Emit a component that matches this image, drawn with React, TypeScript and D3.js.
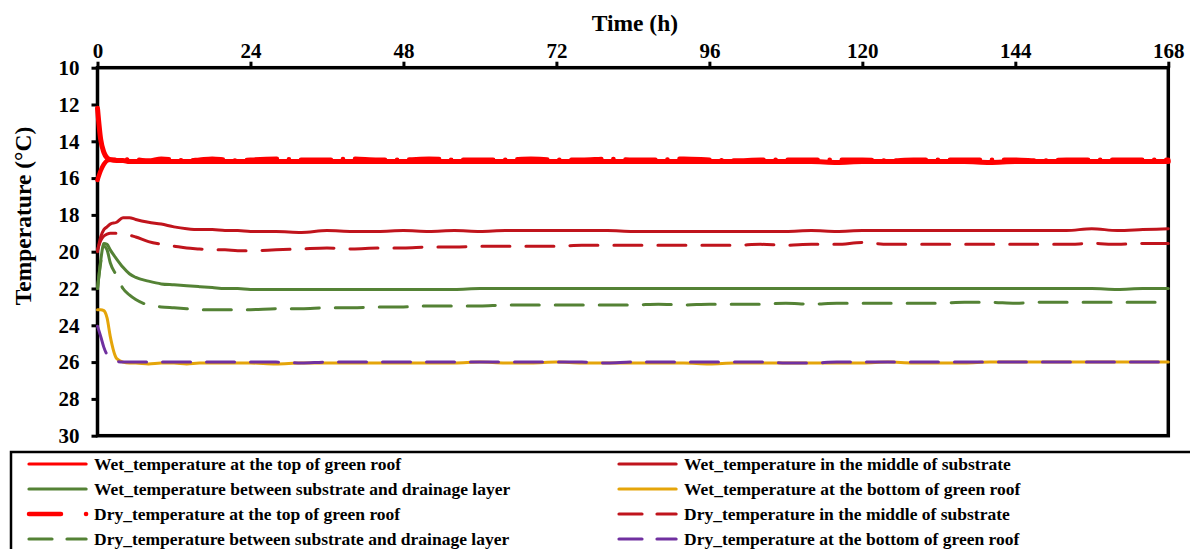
import { useEffect, useRef } from 'react'
import * as d3 from 'd3'

// hours since start (dense at the beginning where the curves move)
const hours = [
  0, 0.5, 1, 1.5, 2, 3, 4, 5, 6, 8, 10, 12, 14, 16, 18, 20, 22,
  24, 28, 32, 36, 40, 44, 48, 52, 56, 60,
  64, 68, 72, 76, 80, 84, 88, 92, 96, 100,
  104, 108, 112, 116, 120, 124, 128, 132, 136, 140,
  144, 148, 152, 156, 160, 164, 168,
]

const wetTop = [
  12.2, 13.9, 14.6, 14.9, 15.0, 15.05, 15.05, 15.1, 15.1, 15.1, 15.1, 15.1, 15.1, 15.1, 15.1, 15.1, 15.1,
  15.1, 15.1, 15.1, 15.1, 15.1, 15.1, 15.1, 15.1, 15.1, 15.1,
  15.1, 15.1, 15.1, 15.1, 15.1, 15.1, 15.1, 15.1, 15.1, 15.1,
  15.1, 15.1, 15.1, 15.15, 15.1, 15.1, 15.1, 15.1, 15.1, 15.15,
  15.1, 15.1, 15.1, 15.1, 15.1, 15.1, 15.1,
]
const wetMiddle = [
  20.0, 19.2, 18.8, 18.65, 18.5, 18.4, 18.15, 18.15, 18.25, 18.4, 18.5, 18.65, 18.75, 18.8, 18.8, 18.85, 18.85,
  18.9, 18.9, 18.95, 18.85, 18.9, 18.9, 18.85, 18.9, 18.85, 18.9,
  18.85, 18.85, 18.85, 18.85, 18.85, 18.9, 18.9, 18.9, 18.9, 18.9,
  18.9, 18.9, 18.85, 18.9, 18.85, 18.85, 18.85, 18.85, 18.85, 18.85,
  18.85, 18.85, 18.85, 18.75, 18.85, 18.8, 18.75,
]
const wetBetween = [
  22.0, 20.5, 19.55, 19.6, 19.9, 20.4, 20.85, 21.2, 21.4, 21.6, 21.75, 21.8, 21.85, 21.9, 21.95, 22.0, 22.0,
  22.05, 22.05, 22.05, 22.05, 22.05, 22.05, 22.05, 22.05, 22.05, 22.0,
  22.0, 22.0, 22.0, 22.0, 22.0, 22.0, 22.0, 22.0, 22.0, 22.0,
  22.0, 22.0, 22.0, 22.0, 22.0, 22.0, 22.0, 22.0, 22.0, 22.0,
  22.0, 22.0, 22.0, 22.0, 22.05, 22.0, 22.0,
]
const wetBottom = [
  23.15, 23.15, 23.2, 23.6, 24.6, 25.8, 26.0, 26.05, 26.05, 26.1, 26.05, 26.05, 26.1, 26.05, 26.05, 26.05, 26.05,
  26.05, 26.1, 26.05, 26.05, 26.05, 26.05, 26.05, 26.05, 26.05, 26.0,
  26.05, 26.05, 26.0, 26.05, 26.05, 26.05, 26.05, 26.05, 26.1, 26.05,
  26.05, 26.05, 26.05, 26.05, 26.05, 26.0, 26.05, 26.05, 26.05, 26.0,
  26.0, 26.0, 26.0, 26.0, 26.0, 26.0, 26.0,
]
const dryTop = [
  16.1, 15.6, 15.25, 15.05, 15.0, 15.0, 14.95, 15.0, 15.0, 15.05, 14.95, 15.0, 15.05, 15.0, 14.95, 15.0, 15.05,
  15.0, 14.95, 15.0, 15.0, 14.95, 15.0, 15.0, 14.95, 15.0, 15.0,
  15.0, 14.95, 15.0, 15.0, 14.95, 15.0, 15.0, 14.95, 15.0, 15.05,
  15.0, 15.0, 15.0, 15.0, 15.0, 15.05, 15.0, 15.0, 15.0, 15.0,
  15.0, 15.05, 15.0, 15.0, 15.0, 15.0, 15.0,
]
const dryMiddle = [
  19.9, 19.4, 19.15, 19.05, 19.0, 19.0, 19.05, 19.1, 19.2, 19.45, 19.6, 19.7, 19.8, 19.85, 19.9, 19.9, 19.95,
  19.95, 19.9, 19.85, 19.8, 19.85, 19.8, 19.8, 19.75, 19.75, 19.7,
  19.7, 19.7, 19.7, 19.65, 19.65, 19.65, 19.65, 19.65, 19.65, 19.65,
  19.6, 19.65, 19.6, 19.6, 19.5, 19.6, 19.6, 19.6, 19.6, 19.6,
  19.6, 19.6, 19.6, 19.55, 19.6, 19.55, 19.55,
]
const dryBetween = [
  22.0, 20.6, 19.7, 19.9, 20.6, 21.3, 22.0, 22.35, 22.6, 22.9, 23.0, 23.05, 23.1, 23.15, 23.15, 23.15, 23.15,
  23.15, 23.1, 23.1, 23.05, 23.05, 23.0, 23.0, 22.95, 22.95, 22.95,
  22.9, 22.9, 22.9, 22.9, 22.9, 22.9, 22.85, 22.9, 22.85, 22.85,
  22.85, 22.8, 22.85, 22.8, 22.8, 22.8, 22.8, 22.8, 22.75, 22.75,
  22.8, 22.75, 22.75, 22.75, 22.75, 22.75, 22.75,
]
const dryBottom = [
  24.05, 24.6, 25.2, 25.6, 25.8, 25.95, 26.0, 26.0, 26.0, 26.0, 26.0, 26.0, 26.0, 26.0, 26.0, 26.0, 26.0,
  26.0, 26.0, 26.05, 26.0, 26.0, 26.0, 26.0, 26.0, 26.0, 26.0,
  26.0, 26.0, 26.0, 26.0, 26.05, 26.0, 26.0, 26.0, 26.0, 26.0,
  26.0, 26.05, 26.05, 26.0, 26.0, 26.0, 26.0, 26.0, 26.0, 26.0,
  26.0, 26.0, 26.0, 26.0, 26.0, 26.0, 26.0,
]

const xTicks = [0, 24, 48, 72, 96, 120, 144, 168]
const yTicks = [10, 12, 14, 16, 18, 20, 22, 24, 26, 28, 30]

// legend order is row by row, two columns
const series = [
  { name: 'Wet_temperature at the top of green roof', values: wetTop, color: '#FF0000', width: 5, legendWidth: 3.2, dash: null, legendDash: null },
  { name: 'Wet_temperature in the middle of substrate', values: wetMiddle, color: '#C0141C', width: 3, legendWidth: 3.2, dash: null, legendDash: null },
  { name: 'Wet_temperature between substrate and drainage layer', values: wetBetween, color: '#548235', width: 3, legendWidth: 3.2, dash: null, legendDash: null },
  { name: 'Wet_temperature at the bottom of green roof', values: wetBottom, color: '#E5A50A', width: 3, legendWidth: 3.2, dash: null, legendDash: null },
  { name: 'Dry_temperature at the top of green roof', values: dryTop, color: '#FF0000', width: 4.5, legendWidth: 4.5, dash: '30 12 0.1 12', legendDash: '32 25 0.1 30' },
  { name: 'Dry_temperature in the middle of substrate', values: dryMiddle, color: '#C0141C', width: 3, legendWidth: 3.2, dash: '28 16', legendDash: '23 15' },
  { name: 'Dry_temperature between substrate and drainage layer', values: dryBetween, color: '#548235', width: 3, legendWidth: 3.2, dash: '28 16', legendDash: '23 15' },
  { name: 'Dry_temperature at the bottom of green roof', values: dryBottom, color: '#7030A0', width: 3, legendWidth: 3.2, dash: '28 16', legendDash: '23 15' },
]

const FONT = '"Liberation Serif", "Times New Roman", serif'

export default function App() {
  const ref = useRef<SVGSVGElement>(null)

  useEffect(() => {
    const svg = d3.select(ref.current)
    svg.selectAll('*').remove()

    const x = d3.scaleLinear().domain([0, 168]).range([97.5, 1168.3])
    const y = d3.scaleLinear().domain([10, 30]).range([67.7, 435.7])

    svg.append('rect').attr('width', 1190).attr('height', 549).attr('fill', '#fff')

    // top time axis
    svg
      .append('g')
      .attr('transform', `translate(0,${y(10)})`)
      .call(d3.axisTop(x).tickValues(xTicks).tickSize(6).tickPadding(4).tickFormat(d3.format('d')))
      .call((g) => g.select('.domain').remove())
      .call((g) => g.selectAll('.tick line').attr('stroke', '#000').attr('stroke-width', 3))
      .call((g) =>
        g.selectAll('.tick text').attr('fill', '#000').attr('font-size', 21).attr('font-weight', 'bold').attr('font-family', FONT)
      )

    // left temperature axis (reversed)
    svg
      .append('g')
      .attr('transform', `translate(${x(0)},0)`)
      .call(d3.axisLeft(y).tickValues(yTicks).tickSize(6).tickPadding(12).tickFormat(d3.format('d')))
      .call((g) => g.select('.domain').remove())
      .call((g) => g.selectAll('.tick line').attr('stroke', '#000').attr('stroke-width', 3))
      .call((g) =>
        g.selectAll('.tick text').attr('fill', '#000').attr('font-size', 21).attr('font-weight', 'bold').attr('font-family', FONT)
      )

    // plot frame
    svg
      .append('rect')
      .attr('x', x(0))
      .attr('y', y(10))
      .attr('width', x(168) - x(0))
      .attr('height', y(30) - y(10))
      .attr('fill', 'none')
      .attr('stroke', '#000')
      .attr('stroke-width', 3.5)

    svg
      .append('text')
      .attr('x', (x(0) + x(168)) / 2 + 2)
      .attr('y', 31)
      .attr('text-anchor', 'middle')
      .attr('font-size', 23.5)
      .attr('font-weight', 'bold')
      .attr('font-family', FONT)
      .text('Time (h)')

    svg
      .append('text')
      .attr('transform', 'translate(31,216) rotate(-90)')
      .attr('text-anchor', 'middle')
      .attr('font-size', 23.5)
      .attr('font-weight', 'bold')
      .attr('font-family', FONT)
      .text('Temperature (°C)')

    const line = d3
      .line<number>()
      .x((_, i) => x(hours[i]))
      .y((d) => y(d))
      .curve(d3.curveMonotoneX)

    series.forEach((s) => {
      svg
        .append('path')
        .datum(s.values)
        .attr('d', line)
        .attr('fill', 'none')
        .attr('stroke', s.color)
        .attr('stroke-width', s.width)
        .attr('stroke-linecap', 'round')
        .attr('stroke-linejoin', 'round')
        .attr('stroke-dasharray', s.dash)
    })

    // legend box (runs off the right and bottom edges)
    const legend = svg.append('g')
    legend
      .append('rect')
      .attr('x', 11)
      .attr('y', 452)
      .attr('width', 1200)
      .attr('height', 120)
      .attr('fill', 'none')
      .attr('stroke', '#000')
      .attr('stroke-width', 2.5)

    series.forEach((s, i) => {
      const col = i % 2
      const row = Math.floor(i / 2)
      const lx = col === 0 ? 27 : 617
      const cy = 464 + row * 25
      legend
        .append('line')
        .attr('x1', lx + 2)
        .attr('x2', lx + 59.1)
        .attr('y1', cy)
        .attr('y2', cy)
        .attr('stroke', s.color)
        .attr('stroke-width', s.legendWidth)
        .attr('stroke-linecap', 'round')
        .attr('stroke-dasharray', s.legendDash)
      legend
        .append('text')
        .attr('x', lx + 67)
        .attr('y', cy + 5.5)
        .attr('font-size', 17.5)
        .attr('font-weight', 'bold')
        .attr('font-family', FONT)
        .attr('fill', '#000')
        .text(s.name)
    })
  }, [])

  return (
    <svg
      ref={ref}
      width={1190}
      height={549}
      style={{ position: 'absolute', left: 0, top: 0, display: 'block' }}
    />
  )
}
